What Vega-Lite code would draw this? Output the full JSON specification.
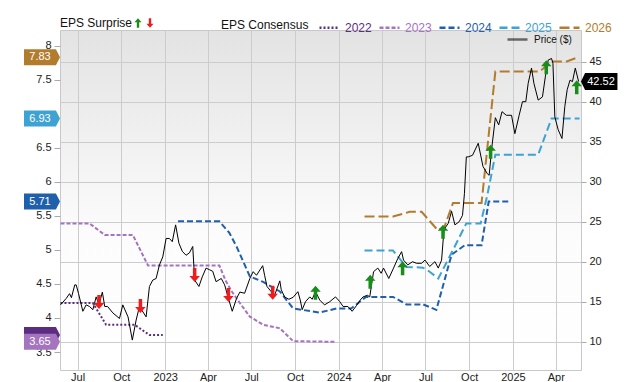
{
  "$schema": "https://vega.github.io/schema/vega-lite/v6.json",
  "width": 521,
  "height": 340,
  "autosize": {"type": "none"},
  "padding": {"left": 60, "top": 30, "right": 59, "bottom": 12},
  "background": "#ffffff",
  "view": {
    "stroke": "#c8c8c8",
    "fill": {"gradient": "linear", "x1": 0, "y1": 0, "x2": 0, "y2": 1, "stops": [{"offset": 0, "color": "#e3e3e3"}, {"offset": 0.6, "color": "#fcfcfc"}, {"offset": 1, "color": "#ffffff"}]}
  },
  "config": {
    "font": "Liberation Sans",
    "view": {"stroke": "#c8c8c8"},
    "axis": {"labelFont": "Liberation Sans", "labelColor": "#222222", "labelFontSize": 11, "title": null, "labelOverlap": false},
    "axisY": {"labelOverlap": false},
    "axisLeft": {"labelOverlap": false},
    "legend": {"labelFont": "Liberation Sans", "titleFont": "Liberation Sans", "labelFontSize": 12, "titleFontSize": 12, "titleFontWeight": "normal", "titleColor": "#111111", "labelColor": "#111111", "padding": 0}
  },
  "datasets": {
    "eps": [
      {"date": "2022-05-26", "year": "2022", "eps": 4.22},
      {"date": "2022-08-02", "year": "2022", "eps": 4.22},
      {"date": "2022-08-30", "year": "2022", "eps": 3.9},
      {"date": "2022-10-29", "year": "2022", "eps": 3.9},
      {"date": "2022-11-29", "year": "2022", "eps": 3.75},
      {"date": "2022-12-27", "year": "2022", "eps": 3.75},
      {"date": "2022-05-26", "year": "2023", "eps": 5.39},
      {"date": "2022-07-26", "year": "2023", "eps": 5.39},
      {"date": "2022-08-27", "year": "2023", "eps": 5.22},
      {"date": "2022-10-25", "year": "2023", "eps": 5.22},
      {"date": "2022-11-26", "year": "2023", "eps": 4.77},
      {"date": "2023-04-25", "year": "2023", "eps": 4.77},
      {"date": "2023-05-08", "year": "2023", "eps": 4.55},
      {"date": "2023-05-20", "year": "2023", "eps": 4.4},
      {"date": "2023-06-07", "year": "2023", "eps": 4.22},
      {"date": "2023-06-28", "year": "2023", "eps": 4.02},
      {"date": "2023-07-26", "year": "2023", "eps": 3.9},
      {"date": "2023-08-30", "year": "2023", "eps": 3.85},
      {"date": "2023-09-27", "year": "2023", "eps": 3.66},
      {"date": "2023-12-25", "year": "2023", "eps": 3.65},
      {"date": "2023-01-28", "year": "2024", "eps": 5.42},
      {"date": "2023-04-25", "year": "2024", "eps": 5.42},
      {"date": "2023-05-16", "year": "2024", "eps": 5.25},
      {"date": "2023-05-31", "year": "2024", "eps": 5.05},
      {"date": "2023-06-28", "year": "2024", "eps": 4.61},
      {"date": "2023-07-26", "year": "2024", "eps": 4.53},
      {"date": "2023-08-30", "year": "2024", "eps": 4.39},
      {"date": "2023-09-27", "year": "2024", "eps": 4.14},
      {"date": "2023-11-22", "year": "2024", "eps": 4.08},
      {"date": "2023-12-27", "year": "2024", "eps": 4.14},
      {"date": "2024-01-27", "year": "2024", "eps": 4.14},
      {"date": "2024-02-27", "year": "2024", "eps": 4.31},
      {"date": "2024-04-24", "year": "2024", "eps": 4.31},
      {"date": "2024-05-22", "year": "2024", "eps": 4.2},
      {"date": "2024-06-26", "year": "2024", "eps": 4.2},
      {"date": "2024-07-24", "year": "2024", "eps": 4.12},
      {"date": "2024-08-25", "year": "2024", "eps": 4.93},
      {"date": "2024-09-22", "year": "2024", "eps": 5.07},
      {"date": "2024-10-27", "year": "2024", "eps": 5.07},
      {"date": "2024-11-11", "year": "2024", "eps": 5.71},
      {"date": "2024-12-26", "year": "2024", "eps": 5.71},
      {"date": "2024-02-24", "year": "2025", "eps": 4.99},
      {"date": "2024-04-24", "year": "2025", "eps": 4.99},
      {"date": "2024-05-22", "year": "2025", "eps": 4.75},
      {"date": "2024-06-26", "year": "2025", "eps": 4.74},
      {"date": "2024-07-10", "year": "2025", "eps": 4.68},
      {"date": "2024-07-28", "year": "2025", "eps": 4.58},
      {"date": "2024-08-28", "year": "2025", "eps": 5.0},
      {"date": "2024-09-25", "year": "2025", "eps": 5.39},
      {"date": "2024-10-25", "year": "2025", "eps": 5.39},
      {"date": "2024-11-08", "year": "2025", "eps": 5.8},
      {"date": "2024-11-25", "year": "2025", "eps": 6.4},
      {"date": "2025-02-23", "year": "2025", "eps": 6.4},
      {"date": "2025-03-23", "year": "2025", "eps": 6.93},
      {"date": "2025-05-21", "year": "2025", "eps": 6.93},
      {"date": "2024-02-24", "year": "2026", "eps": 5.49},
      {"date": "2024-04-24", "year": "2026", "eps": 5.49},
      {"date": "2024-05-29", "year": "2026", "eps": 5.56},
      {"date": "2024-06-23", "year": "2026", "eps": 5.56},
      {"date": "2024-07-27", "year": "2026", "eps": 5.29},
      {"date": "2024-08-10", "year": "2026", "eps": 5.34},
      {"date": "2024-08-28", "year": "2026", "eps": 5.69},
      {"date": "2024-10-27", "year": "2026", "eps": 5.69},
      {"date": "2024-11-25", "year": "2026", "eps": 7.62},
      {"date": "2025-02-26", "year": "2026", "eps": 7.62},
      {"date": "2025-03-23", "year": "2026", "eps": 7.77},
      {"date": "2025-04-24", "year": "2026", "eps": 7.77},
      {"date": "2025-05-18", "year": "2026", "eps": 7.83}
    ],
    "price": [
      {"date": "2022-05-26", "price": 14.6},
      {"date": "2022-06-07", "price": 15.4},
      {"date": "2022-06-14", "price": 16.0},
      {"date": "2022-06-18", "price": 15.5},
      {"date": "2022-06-25", "price": 17.1},
      {"date": "2022-06-28", "price": 17.1},
      {"date": "2022-07-03", "price": 16.0},
      {"date": "2022-07-12", "price": 13.8},
      {"date": "2022-07-19", "price": 14.6},
      {"date": "2022-07-26", "price": 14.4},
      {"date": "2022-08-02", "price": 14.0},
      {"date": "2022-08-09", "price": 15.6},
      {"date": "2022-08-15", "price": 14.6},
      {"date": "2022-08-22", "price": 16.2},
      {"date": "2022-08-27", "price": 14.4},
      {"date": "2022-09-02", "price": 14.4},
      {"date": "2022-09-13", "price": 13.6},
      {"date": "2022-09-27", "price": 12.9},
      {"date": "2022-10-04", "price": 14.6},
      {"date": "2022-10-15", "price": 13.1},
      {"date": "2022-10-24", "price": 10.2},
      {"date": "2022-11-01", "price": 12.7},
      {"date": "2022-11-08", "price": 14.4},
      {"date": "2022-11-22", "price": 13.1},
      {"date": "2022-11-29", "price": 16.9},
      {"date": "2022-12-06", "price": 17.7},
      {"date": "2022-12-13", "price": 17.9},
      {"date": "2022-12-20", "price": 19.6},
      {"date": "2022-12-27", "price": 20.6},
      {"date": "2023-01-03", "price": 22.9},
      {"date": "2023-01-10", "price": 22.9},
      {"date": "2023-01-16", "price": 22.5},
      {"date": "2023-01-23", "price": 24.6},
      {"date": "2023-01-30", "price": 22.3},
      {"date": "2023-02-06", "price": 21.3},
      {"date": "2023-02-14", "price": 20.8},
      {"date": "2023-02-21", "price": 21.1},
      {"date": "2023-02-28", "price": 21.9},
      {"date": "2023-03-04", "price": 17.7},
      {"date": "2023-03-13", "price": 16.9},
      {"date": "2023-03-20", "price": 18.1},
      {"date": "2023-03-28", "price": 19.2},
      {"date": "2023-04-04", "price": 19.0},
      {"date": "2023-04-11", "price": 18.8},
      {"date": "2023-04-18", "price": 17.5},
      {"date": "2023-04-29", "price": 17.9},
      {"date": "2023-05-06", "price": 17.1},
      {"date": "2023-05-15", "price": 15.2},
      {"date": "2023-05-22", "price": 13.8},
      {"date": "2023-05-31", "price": 15.4},
      {"date": "2023-06-07", "price": 16.2},
      {"date": "2023-06-17", "price": 16.05},
      {"date": "2023-06-28", "price": 17.9},
      {"date": "2023-07-05", "price": 18.75},
      {"date": "2023-07-12", "price": 18.3},
      {"date": "2023-07-25", "price": 19.5},
      {"date": "2023-07-29", "price": 18.3},
      {"date": "2023-08-03", "price": 16.9},
      {"date": "2023-08-12", "price": 16.25},
      {"date": "2023-08-19", "price": 15.8},
      {"date": "2023-08-30", "price": 17.6},
      {"date": "2023-09-02", "price": 16.5},
      {"date": "2023-09-09", "price": 15.6},
      {"date": "2023-09-18", "price": 15.3},
      {"date": "2023-09-27", "price": 15.55},
      {"date": "2023-10-07", "price": 16.25},
      {"date": "2023-10-12", "price": 15.2},
      {"date": "2023-10-16", "price": 14.0},
      {"date": "2023-10-23", "price": 15.0},
      {"date": "2023-11-01", "price": 15.6},
      {"date": "2023-11-06", "price": 15.3},
      {"date": "2023-11-13", "price": 16.25},
      {"date": "2023-11-22", "price": 15.2},
      {"date": "2023-12-02", "price": 14.6},
      {"date": "2023-12-13", "price": 15.0},
      {"date": "2023-12-25", "price": 15.6},
      {"date": "2024-01-03", "price": 15.0},
      {"date": "2024-01-10", "price": 14.4},
      {"date": "2024-01-20", "price": 14.4},
      {"date": "2024-01-29", "price": 13.8},
      {"date": "2024-02-07", "price": 14.5},
      {"date": "2024-02-15", "price": 15.2},
      {"date": "2024-02-21", "price": 15.6},
      {"date": "2024-03-01", "price": 15.8},
      {"date": "2024-03-06", "price": 15.6},
      {"date": "2024-03-14", "price": 18.75},
      {"date": "2024-03-23", "price": 19.2},
      {"date": "2024-03-30", "price": 18.55},
      {"date": "2024-04-04", "price": 19.2},
      {"date": "2024-04-15", "price": 17.9},
      {"date": "2024-04-25", "price": 19.2},
      {"date": "2024-05-04", "price": 20.4},
      {"date": "2024-05-12", "price": 21.25},
      {"date": "2024-05-16", "price": 20.2},
      {"date": "2024-05-25", "price": 19.6},
      {"date": "2024-06-04", "price": 20.0},
      {"date": "2024-06-12", "price": 19.8},
      {"date": "2024-06-23", "price": 19.8},
      {"date": "2024-06-30", "price": 20.2},
      {"date": "2024-07-10", "price": 19.4},
      {"date": "2024-07-21", "price": 20.0},
      {"date": "2024-07-28", "price": 19.2},
      {"date": "2024-08-04", "price": 20.2},
      {"date": "2024-08-09", "price": 24.0},
      {"date": "2024-08-18", "price": 24.8},
      {"date": "2024-08-25", "price": 26.3},
      {"date": "2024-09-01", "price": 24.6},
      {"date": "2024-09-10", "price": 25.0},
      {"date": "2024-09-17", "price": 25.8},
      {"date": "2024-09-21", "price": 28.5},
      {"date": "2024-09-25", "price": 33.1},
      {"date": "2024-09-29", "price": 33.1},
      {"date": "2024-10-08", "price": 33.3},
      {"date": "2024-10-20", "price": 34.8},
      {"date": "2024-10-30", "price": 31.9},
      {"date": "2024-11-08", "price": 31.0},
      {"date": "2024-11-12", "price": 30.8},
      {"date": "2024-11-17", "price": 34.0},
      {"date": "2024-11-25", "price": 38.0},
      {"date": "2024-12-02", "price": 37.1},
      {"date": "2024-12-09", "price": 38.75},
      {"date": "2024-12-18", "price": 38.3},
      {"date": "2024-12-29", "price": 38.3},
      {"date": "2025-01-05", "price": 36.0},
      {"date": "2025-01-14", "price": 38.3},
      {"date": "2025-01-21", "price": 40.0},
      {"date": "2025-01-28", "price": 40.0},
      {"date": "2025-02-02", "price": 42.3},
      {"date": "2025-02-09", "price": 44.2},
      {"date": "2025-02-14", "price": 42.3},
      {"date": "2025-02-23", "price": 40.2},
      {"date": "2025-03-04", "price": 40.6},
      {"date": "2025-03-10", "price": 43.1},
      {"date": "2025-03-16", "price": 45.2},
      {"date": "2025-03-23", "price": 45.4},
      {"date": "2025-03-26", "price": 44.8},
      {"date": "2025-03-30", "price": 38.1},
      {"date": "2025-04-06", "price": 36.5},
      {"date": "2025-04-14", "price": 35.4},
      {"date": "2025-04-20", "price": 39.4},
      {"date": "2025-04-25", "price": 41.5},
      {"date": "2025-05-01", "price": 42.7},
      {"date": "2025-05-06", "price": 42.5},
      {"date": "2025-05-12", "price": 44.2},
      {"date": "2025-05-19", "price": 42.52}
    ],
    "surprise": [
      {"date": "2022-08-15", "price": 14.96, "dir": "down"},
      {"date": "2022-11-10", "price": 14.46, "dir": "down"},
      {"date": "2023-03-04", "price": 18.34, "dir": "down"},
      {"date": "2023-05-14", "price": 15.84, "dir": "down"},
      {"date": "2023-08-15", "price": 16.12, "dir": "down"},
      {"date": "2023-11-13", "price": 16.12, "dir": "up"},
      {"date": "2024-03-07", "price": 17.5, "dir": "up"},
      {"date": "2024-05-14", "price": 19.17, "dir": "up"},
      {"date": "2024-08-07", "price": 23.75, "dir": "up"},
      {"date": "2024-11-15", "price": 33.75, "dir": "up"},
      {"date": "2025-03-12", "price": 44.3, "dir": "up"},
      {"date": "2025-05-15", "price": 41.8, "dir": "up"}
    ],
    "tags": [
      {"year": "2022", "eps": 3.75},
      {"year": "2023", "eps": 3.65},
      {"year": "2024", "eps": 5.71},
      {"year": "2025", "eps": 6.93},
      {"year": "2026", "eps": 7.83}
    ],
    "last": [
      {"price": 42.52}
    ]
  },
  "layer": [
    {
      "layer": [
        {
          "data": {"name": "eps"},
          "mark": {"type": "line", "strokeWidth": 2},
          "encoding": {
            "x": {
              "field": "date", "type": "temporal",
              "scale": {"type": "utc", "domain": [{"year": 2022, "month": 5, "date": 25, "utc": true}, {"year": 2025, "month": 5, "date": 24, "utc": true}]},
              "axis": {
                "values": [
                  {"year": 2022, "month": 7, "date": 1, "utc": true}, {"year": 2022, "month": 10, "date": 1, "utc": true},
                  {"year": 2023, "month": 1, "date": 1, "utc": true}, {"year": 2023, "month": 4, "date": 1, "utc": true},
                  {"year": 2023, "month": 7, "date": 1, "utc": true}, {"year": 2023, "month": 10, "date": 1, "utc": true},
                  {"year": 2024, "month": 1, "date": 1, "utc": true}, {"year": 2024, "month": 4, "date": 1, "utc": true},
                  {"year": 2024, "month": 7, "date": 1, "utc": true}, {"year": 2024, "month": 10, "date": 1, "utc": true},
                  {"year": 2025, "month": 1, "date": 1, "utc": true}, {"year": 2025, "month": 4, "date": 1, "utc": true}
                ],
                "labelExpr": "utcFormat(datum.value, '%m') == '01' ? utcFormat(datum.value, '%Y') : utcFormat(datum.value, '%b')",
                "grid": true, "gridColor": "#cccccc", "ticks": false, "domain": false, "labelPadding": 1,
                "labelFlush": false, "labelOverlap": false
              }
            },
            "y": {
              "field": "eps", "type": "quantitative",
              "scale": {"domain": [3.236, 8.231], "nice": false, "zero": false},
              "axis": {"orient": "left", "values": [3.5, 4, 4.5, 5, 5.5, 6, 6.5, 7.5, 8], "labelExpr": "format(datum.value, '~g')", "grid": false, "domain": false, "tickSize": 6, "tickColor": "#aaaaaa", "labelPadding": 3, "labelOverlap": false, "labelSeparation": 0}
            },
            "color": {
              "field": "year", "type": "nominal",
              "scale": {"domain": ["2022", "2023", "2024", "2025", "2026"], "range": ["#5b2c82", "#a574bf", "#1f5fab", "#3ea2d2", "#b27c2e"]},
              "legend": {
                "orient": "none", "legendX": 161, "legendY": -14, "direction": "horizontal",
                "title": "EPS Consensus", "titleOrient": "left", "titlePadding": 9, "titleFontWeight": "normal",
                "symbolType": "stroke", "symbolSize": 400, "symbolStrokeWidth": 2.5,
                "labelOffset": 4, "columnPadding": 2,
                "labelColor": {"expr": "datum.value == '2022' ? '#5b2c82' : datum.value == '2023' ? '#a574bf' : datum.value == '2024' ? '#1f5fab' : datum.value == '2025' ? '#3ea2d2' : '#b27c2e'"}
              }
            },
            "strokeDash": {
              "field": "year", "type": "nominal",
              "scale": {"domain": ["2022", "2023", "2024", "2025", "2026"], "range": [[2, 2], [4, 2], [6, 3], [8, 4], [10, 4]]},
              "legend": {
                "orient": "none", "legendX": 161, "legendY": -14, "direction": "horizontal",
                "title": "EPS Consensus", "titleOrient": "left", "titlePadding": 9, "titleFontWeight": "normal",
                "symbolType": "stroke", "symbolSize": 400, "symbolStrokeWidth": 2.5,
                "labelOffset": 4, "columnPadding": 2
              }
            }
          }
        },
        {
          "data": {"name": "tags"},
          "mark": {"type": "point", "filled": true, "opacity": 1, "size": 324, "shape": "M0,0L-0.45,-0.89L-4,-0.89L-4,0.89L-0.45,0.89Z"},
          "encoding": {
            "x": {"datum": {"year": 2022, "month": 5, "date": 25, "utc": true}, "type": "temporal"},
            "y": {"field": "eps", "type": "quantitative",
              "axis": {"orient": "left", "values": [3.5, 4, 4.5, 5, 5.5, 6, 6.5, 7.5, 8], "labelExpr": "format(datum.value, '~g')", "grid": false, "domain": false, "tickSize": 6, "tickColor": "#aaaaaa", "labelPadding": 3, "labelOverlap": false, "labelSeparation": 0}},
            "fill": {"field": "year", "type": "nominal", "scale": {"domain": ["2022", "2023", "2024", "2025", "2026"], "range": ["#5b2c82", "#a574bf", "#1f5fab", "#3ea2d2", "#b27c2e"]}, "legend": null}
          }
        },
        {
          "data": {"name": "tags"},
          "transform": [{"filter": "datum.year != '2022'"}],
          "mark": {"type": "text", "dx": -20, "color": "#ffffff", "fontSize": 11, "font": "Liberation Sans"},
          "encoding": {
            "x": {"datum": {"year": 2022, "month": 5, "date": 25, "utc": true}, "type": "temporal"},
            "y": {"field": "eps", "type": "quantitative",
              "axis": {"orient": "left", "values": [3.5, 4, 4.5, 5, 5.5, 6, 6.5, 7.5, 8], "labelExpr": "format(datum.value, '~g')", "grid": false, "domain": false, "tickSize": 6, "tickColor": "#aaaaaa", "labelPadding": 3, "labelOverlap": false, "labelSeparation": 0}},
            "text": {"field": "eps", "type": "quantitative", "format": ".2f"}
          }
        }
      ]
    },
    {
      "layer": [
        {
          "data": {"name": "price"},
          "mark": {"type": "line", "strokeWidth": 1},
          "encoding": {
            "x": {"field": "date", "type": "temporal"},
            "y": {
              "field": "price", "type": "quantitative",
              "scale": {"domain": [6.46, 48.96], "nice": false, "zero": false},
              "axis": {"orient": "right", "values": [10, 15, 20, 25, 30, 35, 40, 45], "grid": true, "gridColor": "#cccccc", "domain": false, "tickSize": 5, "tickColor": "#aaaaaa", "labelPadding": 3, "labelOverlap": false}
            },
            "stroke": {
              "datum": "Price ($)", "type": "nominal",
              "scale": {"range": ["#000000"]},
              "legend": {"orient": "none", "legendX": 446, "legendY": -2, "title": null, "symbolType": "stroke", "symbolSize": 400, "symbolStrokeWidth": 2.5, "symbolOpacity": 0.55, "labelOffset": 5, "labelFontSize": 10}
            }
          }
        },
        {
          "data": {"name": "surprise"},
          "mark": {"type": "point", "filled": true, "opacity": 1, "size": 196},
          "encoding": {
            "x": {"field": "date", "type": "temporal"},
            "y": {"field": "price", "type": "quantitative"},
            "fill": {
              "field": "dir", "type": "nominal",
              "scale": {"domain": ["up", "down"], "range": ["#1a8c1a", "#ee1c1c"]},
              "legend": {"orient": "none", "legendX": 0, "legendY": -13, "direction": "horizontal", "title": "EPS Surprise", "titleOrient": "left", "titlePadding": -1, "titleFontWeight": "normal", "symbolSize": 90, "labelExpr": "''", "labelOffset": 0, "columnPadding": -1,
                "encoding": {"symbols": {"shape": {"condition": {"test": "datum.value == 'up'", "value": "M0,-1L0.75,-0.15L0.25,-0.15L0.25,1L-0.25,1L-0.25,-0.15L-0.75,-0.15Z"}, "value": "M0,1L0.75,0.15L0.25,0.15L0.25,-1L-0.25,-1L-0.25,0.15L-0.75,0.15Z"}}}}
            },
            "shape": {
              "field": "dir", "type": "nominal",
              "scale": {"domain": ["up", "down"], "range": ["M0,-1L0.75,-0.15L0.25,-0.15L0.25,1L-0.25,1L-0.25,-0.15L-0.75,-0.15Z", "M0,1L0.75,0.15L0.25,0.15L0.25,-1L-0.25,-1L-0.25,0.15L-0.75,0.15Z"]},
              "legend": null
            }
          }
        },
        {
          "data": {"name": "last"},
          "mark": {"type": "point", "filled": true, "opacity": 1, "size": 324, "fill": "#000000", "shape": "M0,0L0.45,-0.94L4.05,-0.94L4.05,0.94L0.45,0.94Z"},
          "encoding": {
            "x": {"datum": {"year": 2025, "month": 5, "date": 24, "utc": true}, "type": "temporal"},
            "y": {"field": "price", "type": "quantitative"}
          }
        },
        {
          "data": {"name": "last"},
          "mark": {"type": "text", "dx": 20, "color": "#ffffff", "fontSize": 11, "font": "Liberation Sans"},
          "encoding": {
            "x": {"datum": {"year": 2025, "month": 5, "date": 24, "utc": true}, "type": "temporal"},
            "y": {"field": "price", "type": "quantitative"},
            "text": {"field": "price", "type": "quantitative", "format": ".2f"}
          }
        }
      ]
    }
  ],
  "resolve": {"scale": {"y": "independent", "fill": "independent"}}
}
